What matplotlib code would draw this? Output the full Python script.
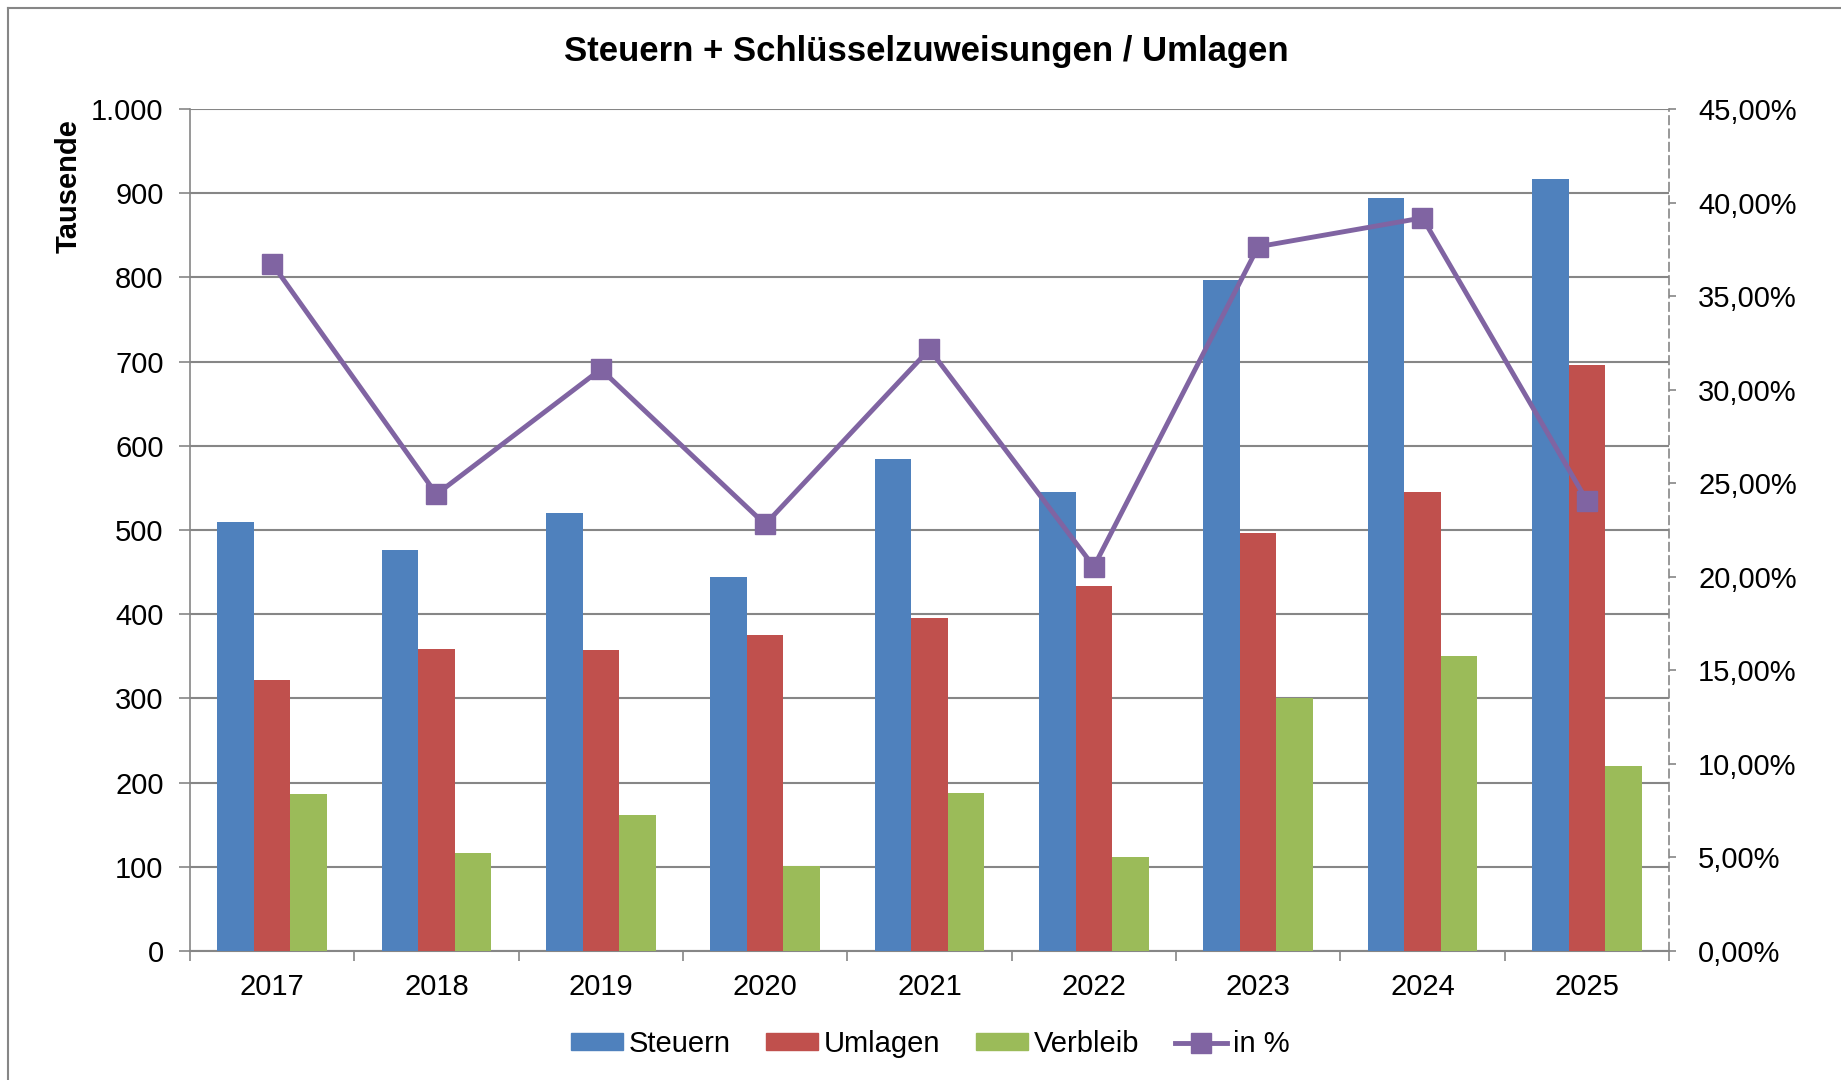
import matplotlib
matplotlib.use("Agg")
import matplotlib.pyplot as plt
import numpy as np
from matplotlib.ticker import FuncFormatter, MultipleLocator
from matplotlib.lines import Line2D
from matplotlib.patches import Patch

plt.rcParams['font.family'] = ['Liberation Sans', 'DejaVu Sans']

# Werte in Tausend
jahre = ['2017', '2018', '2019', '2020', '2021', '2022', '2023', '2024', '2025']
steuern = [509, 476, 520, 444, 584, 545, 797, 894, 917]
umlagen = [322, 359, 358, 375, 395, 433, 497, 545, 696]
verbleib = [187, 116, 162, 101, 188, 112, 300, 350, 220]
in_prozent = [36.73, 24.41, 31.09, 22.80, 32.16, 20.54, 37.64, 39.18, 24.07]

blau = '#4F81BD'
rot = '#C0504D'
gruen = '#9BBB59'
lila = '#8064A2'
grau = '#868686'

fig = plt.figure(figsize=(18.41, 10.8), dpi=100)
ax = fig.add_axes([190/1841, 1 - 951/1080, (1669-190)/1841, (951-109)/1080])

x = np.arange(len(jahre))
b = 0.222
ax.bar(x - b, steuern, b, color=blau, zorder=3, label='Steuern')
ax.bar(x, umlagen, b, color=rot, zorder=3, label='Umlagen')
ax.bar(x + b, verbleib, b, color=gruen, zorder=3, label='Verbleib')

ax.set_xlim(-0.5, len(jahre) - 0.5)
ax.set_ylim(0, 1000)
ax.yaxis.set_major_locator(MultipleLocator(100))
ax.yaxis.set_major_formatter(FuncFormatter(lambda v, p: f'{int(v):,}'.replace(',', '.')))
ax.grid(axis='y', color=grau, linewidth=1.5, zorder=0)
ax.set_axisbelow(True)

# Jahreslabels in der Mitte, Striche zwischen den Gruppen
ax.set_xticks(np.arange(len(jahre) + 1) - 0.5)
ax.set_xticklabels([])
ax.set_xticks(x, minor=True)
ax.set_xticklabels(jahre, minor=True)
ax.tick_params(axis='x', which='major', direction='out', length=7, width=1.2, color=grau)
ax.tick_params(axis='x', which='minor', length=0, pad=16, labelsize=21)
ax.tick_params(axis='y', direction='out', length=8, width=1.2, color=grau, pad=11, labelsize=21)

for s in ['top', 'right']:
    ax.spines[s].set_visible(False)
ax.spines['left'].set_color(grau)
ax.spines['left'].set_linewidth(1.2)
ax.spines['bottom'].set_color(grau)
ax.spines['bottom'].set_linewidth(1.5)

# rechte Achse fuer Prozent
ax2 = ax.twinx()
ax2.plot(x, np.array(in_prozent) / 100, color=lila, linewidth=3.5, marker='s',
         markersize=14, zorder=5)
ax2.set_ylim(0, 0.45)
ax2.yaxis.set_major_locator(MultipleLocator(0.05))
ax2.yaxis.set_major_formatter(FuncFormatter(lambda v, p: f'{v*100:.2f}%'.replace('.', ',')))
ax2.tick_params(axis='y', direction='out', length=5, width=1.2, color=grau, pad=16, labelsize=21)
for s in ['top', 'left', 'bottom']:
    ax2.spines[s].set_visible(False)
ax2.spines['right'].set_color(grau)
ax2.spines['right'].set_linewidth(1.2)
ax2.spines['right'].set_linestyle((0, (5, 3)))

fig.text(926/1841, 1 - 51/1080, 'Steuern + Schlüsselzuweisungen / Umlagen',
         ha='center', va='center', fontsize=25, fontweight='bold')
fig.text(69/1841, 1 - 186/1080, 'Tausende', rotation=90, ha='center', va='center',
         fontsize=21, fontweight='bold')

handles = [Patch(color=blau), Patch(color=rot), Patch(color=gruen),
           Line2D([], [], color=lila, linewidth=3.5, marker='s', markersize=14)]
fig.legend(handles, ['Steuern', 'Umlagen', 'Verbleib', 'in %'], loc='center',
           bbox_to_anchor=(930/1841, 1 - 1044/1080), ncol=4, frameon=False,
           fontsize=21, handlelength=1.8, handleheight=0.5, handletextpad=0.2,
           columnspacing=1.2)

# Rahmen oben und links
fig.add_artist(Line2D([8/1841, 1], [1 - 8/1080, 1 - 8/1080], color=grau, linewidth=1.5))
fig.add_artist(Line2D([8/1841, 8/1841], [0, 1 - 8/1080], color=grau, linewidth=1.5))

fig.savefig('out.png', dpi=100)
